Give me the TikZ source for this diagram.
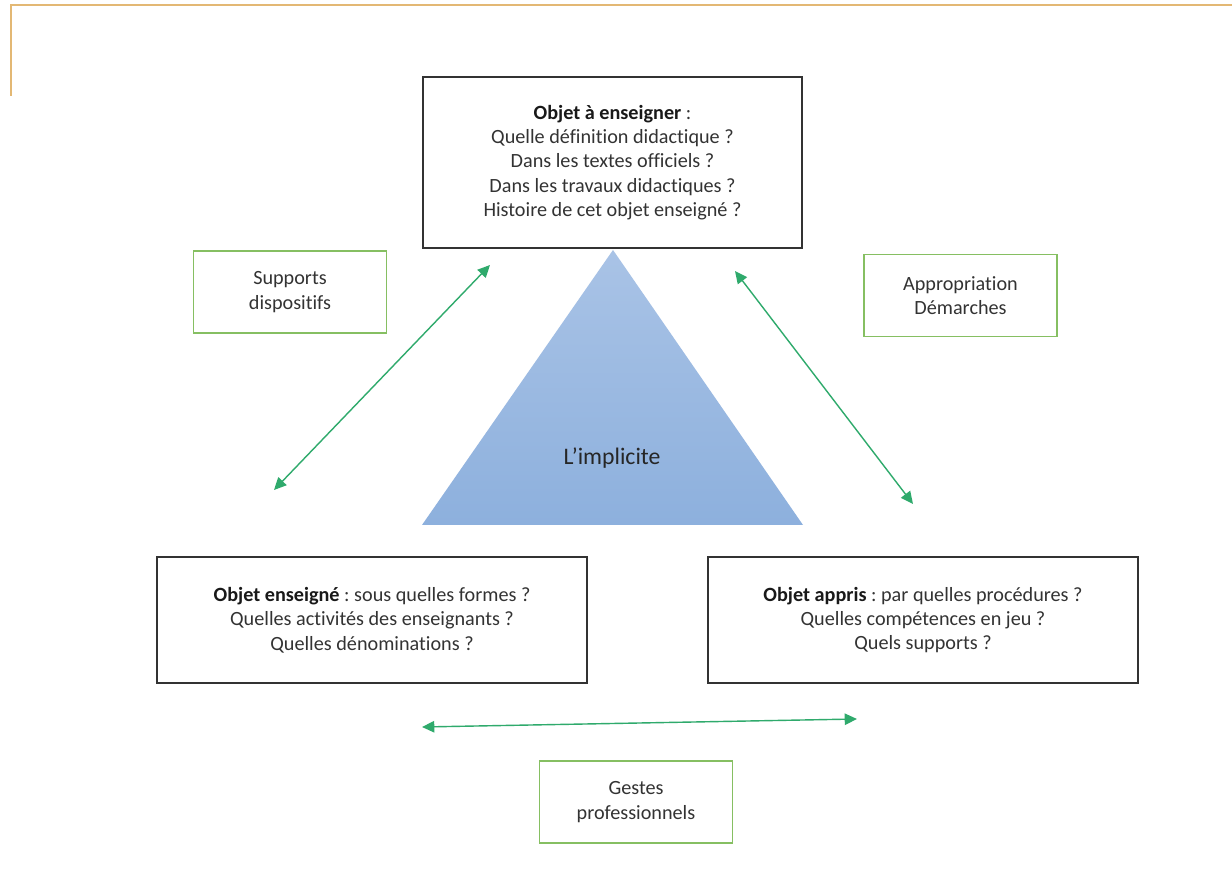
\documentclass[tikz,border=0pt]{standalone}
\usepackage{fontspec}
\setmainfont{Carlito}[Ligatures=NoCommon]
\frenchspacing
\usetikzlibrary{arrows.meta}
\definecolor{frameorange}{HTML}{E3B874}
\definecolor{boxgray}{HTML}{333333}
\definecolor{txtgray}{HTML}{333333}
\definecolor{lightgreen}{HTML}{86BF62}
\definecolor{arrowgreen}{HTML}{2FAA6C}
\definecolor{tritop}{HTML}{A9C3E6}
\definecolor{tribot}{HTML}{8DB0DD}
\tikzset{
  mainbox/.style={draw=boxgray, line width=1.2pt, align=center, text=txtgray,
    font=\fontsize{11.5}{13.9}\selectfont, inner sep=0pt},
  greenbox/.style={draw=lightgreen, line width=1.0pt, align=center, text=txtgray,
    font=\fontsize{11.5}{13.9}\selectfont, inner sep=0pt,
    minimum width=3.86cm, minimum height=1.64cm},
  link/.style={draw=arrowgreen, line width=0.8pt,
    {Triangle[length=7pt,width=6.5pt]}-{Triangle[length=7pt,width=6.5pt]}}
}
\begin{document}
\begin{tikzpicture}[x=0.02cm,y=-0.02cm]
\useasboundingbox[fill=white] (0,0) rectangle (1232,881);
% orange frame
\draw[frameorange, line width=1.3pt] (11,96) -- (11,5) -- (1232,5);
% triangle
\shade[top color=tritop, bottom color=tribot] (613,250) -- (803,525) -- (422,525) -- cycle;
\node[text=black!85, font=\fontsize{13.5}{16}\selectfont] (impl) at (612,458) {L’implicite};
% main boxes
\node[mainbox, minimum width=7.58cm, minimum height=3.42cm] (top) at (612.5,162.5)
  {\textcolor{black!90}{\textbf{Objet à enseigner}} :\\Quelle définition didactique ?\\Dans les textes officiels ?\\Dans les travaux didactiques ?\\Histoire de cet objet enseigné ?};
\node[mainbox, minimum width=8.6cm, minimum height=2.52cm] (left) at (372,620)
  {\textcolor{black!90}{\textbf{Objet enseigné}} : sous quelles formes ?\\Quelles activités des enseignants ?\\Quelles dénominations ?};
\node[mainbox, minimum width=8.6cm, minimum height=2.52cm] (right) at (923,620)
  {\textcolor{black!90}{\textbf{Objet appris}} : par quelles procédures ?\\Quelles compétences en jeu ?\\Quels supports ?};
% green boxes
\node[greenbox] (supp) at (290,292) {Supports\\dispositifs};
\node[greenbox] (appr) at (960.5,295.5) {Appropriation\\Démarches};
\node[greenbox] (gest) at (636,802) {Gestes\\professionnels};
% arrows
\coordinate (a1) at (490,265);
\coordinate (a2) at (274,490);
\coordinate (b1) at (735,271);
\coordinate (b2) at (913,504);
\coordinate (c1) at (422,727);
\coordinate (c2) at (857,719);
\draw[link] (a1) -- (a2);
\draw[link] (b1) -- (b2);
\draw[link] (c1) -- (c2);
\end{tikzpicture}
\end{document}
